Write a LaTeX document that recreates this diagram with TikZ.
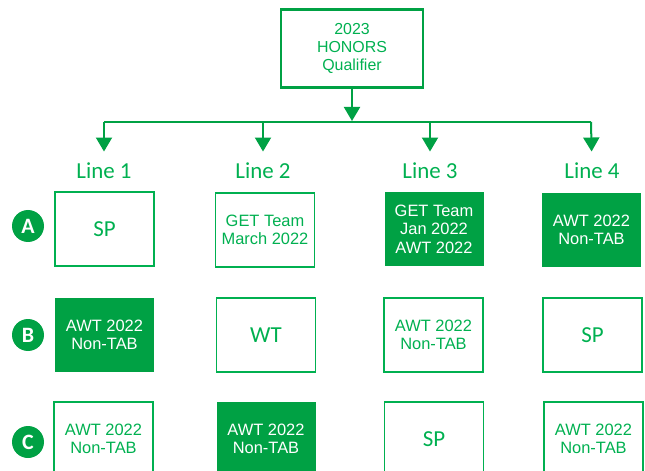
\documentclass[tikz,border=0pt]{standalone}
\usepackage{fontspec}
\setmainfont{Liberation Sans}
\newfontfamily\carlito{Carlito}
\usetikzlibrary{arrows.meta}
\definecolor{hon_green}{RGB}{0,161,68}
\definecolor{hon_light}{RGB}{0,176,80}
\tikzstyle{qn}=[draw=hon_green,line width=2.5bp,text=hon_light,align=center,
  minimum width=142bp,minimum height=78bp,font=\fontsize{16}{18.5}\selectfont]
\tikzstyle{ln}=[text=hon_light,font=\carlito\fontsize{23}{26}\selectfont]
\tikzstyle{wn}=[draw=hon_light,line width=1.5bp,text=hon_light,align=center,
  minimum width=99bp,minimum height=74bp,font=\fontsize{16.5}{18.5}\selectfont]
\tikzstyle{wc}=[wn,font=\carlito\fontsize{23}{26}\selectfont]
\tikzstyle{fn}=[fill=hon_green,text=white,align=center,
  minimum width=99bp,minimum height=74bp,font=\fontsize{16.5}{18.5}\selectfont]
\tikzstyle{cn}=[circle,fill=hon_green,text=white,minimum size=32bp,inner sep=0pt,
  font=\carlito\bfseries\fontsize{22}{24}\selectfont]
\tikzstyle{arr}=[draw=hon_green,line width=2bp,-{Triangle[width=16bp,length=14bp]}]

\begin{document}
\begin{tikzpicture}[x=1bp,y=-1bp]
        \useasboundingbox (0,0) rectangle (645,471);
        \clip (0,0) rectangle (645,471);
        \node[style=qn] (q) at (352,48.5) {2023\\HONORS\\Qualifier};
        \coordinate (j0) at (352,121);
        \coordinate (j1) at (104,122);
        \coordinate (j2) at (263,122);
        \coordinate (j3) at (430,122);
        \coordinate (j4) at (591,122);
        \node[style=ln] (l1) at (104,171) {Line 1};
        \node[style=ln] (l2) at (263,171) {Line 2};
        \node[style=ln] (l3) at (430,171) {Line 3};
        \node[style=ln] (l4) at (592,171) {Line 4};
        \node[style=cn] (ra) at (28,226) {A};
        \node[style=cn] (rb) at (28,335) {B};
        \node[style=cn] (rc) at (28,442) {C};
        \node[style=wc] (a1) at (104.5,229) {SP};
        \node[style=wn] (a2) at (265,230) {GET Team\\March 2022};
        \node[style=fn] (a3) at (434,229) {GET Team\\Jan 2022\\AWT 2022};
        \node[style=fn] (a4) at (591.5,230) {AWT 2022\\Non-TAB};
        \node[style=fn] (b1) at (104.5,335) {AWT 2022\\Non-TAB};
        \node[style=wc] (b2) at (266,335) {WT};
        \node[style=wn] (b3) at (433.5,335) {AWT 2022\\Non-TAB};
        \node[style=wc] (b4) at (592.5,335) {SP};
        \node[style=wn] (c1) at (103.5,439) {AWT 2022\\Non-TAB};
        \node[style=fn] (c2) at (266,439) {AWT 2022\\Non-TAB};
        \node[style=wc] (c3) at (434,439) {SP};
        \node[style=wn] (c4) at (593.5,439) {AWT 2022\\Non-TAB};
        \draw[style=arr] (q) to (j0);
        \draw[draw=hon_green,line width=2bp] (j1) to (j4);
        \draw[style=arr,shorten >=8bp] (j1) to (l1);
        \draw[style=arr,shorten >=8bp] (j2) to (l2);
        \draw[style=arr,shorten >=8bp] (j3) to (l3);
        \draw[style=arr,shorten >=8bp] (j4) to (l4);
    \end{tikzpicture}
\end{document}
